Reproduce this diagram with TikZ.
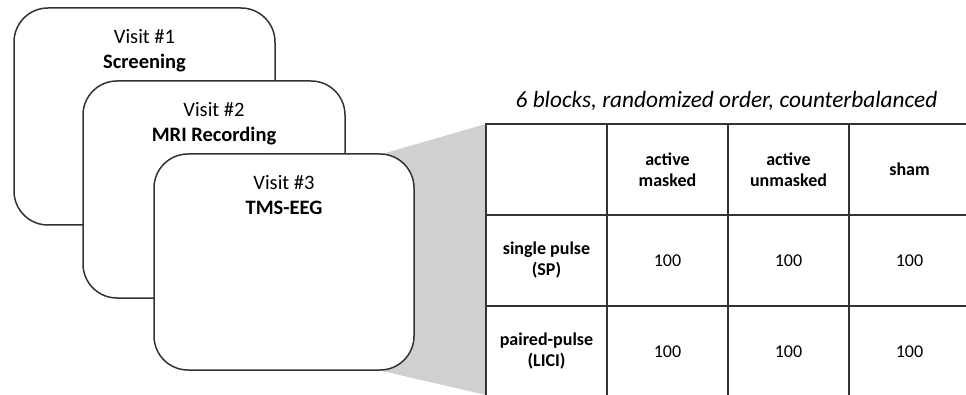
\documentclass[tikz,border=0pt]{standalone}
\usepackage{fontspec}
\setmainfont{Carlito}
\definecolor{lineC}{HTML}{333333}
\definecolor{grayF}{HTML}{D0D0D0}
\tikzset{
  visit/.style={draw=lineC, line width=1.5pt, fill=white, rounded corners=34pt, inner sep=0pt},
  vtext/.style={font=\fontsize{20.5}{24}\selectfont, inner sep=0pt, anchor=base},
  cell/.style={draw=lineC, line width=1.4pt, minimum width=121pt, minimum height=91pt, inner sep=0pt, align=center, font=\fontsize{18}{21}\selectfont},
  hcell/.style={cell, font=\fontsize{18}{21}\selectfont\bfseries},
}
\begin{document}
\begin{tikzpicture}[x=1pt,y=-1pt]
\useasboundingbox (0,0) rectangle (966,395);
\clip (0,0) rectangle (966,395);
% gray projection
\fill[grayF] (382,154) -- (486,124) -- (486,395) -- (382,371) -- cycle;
% visit boxes
\node[visit, minimum width=261pt, minimum height=217pt] (b1) at (144.5,116.5) {};
\node[vtext] (v1) at (144.5,44) {Visit \#1};
\node[vtext, font=\fontsize{20.5}{24}\selectfont\bfseries] (s1) at (144.5,69) {Screening};
\node[visit, minimum width=262pt, minimum height=217pt] (b2) at (214,189.5) {};
\node[vtext] (v2) at (214,117) {Visit \#2};
\node[vtext, font=\fontsize{20.5}{24}\selectfont\bfseries] (s2) at (214,142) {MRI Recording};
\node[visit, minimum width=260pt, minimum height=216pt] (b3) at (284,262) {};
\node[vtext] (v3) at (284,190) {Visit \#3};
\node[vtext, font=\fontsize{20.5}{24}\selectfont\bfseries] (s3) at (284,215) {TMS-EEG};
% title
\node[font=\fontsize{23.3}{26}\selectfont\itshape, inner sep=0pt] (title) at (726.5,101) {6 blocks, randomized order, counterbalanced};
% table
\node[cell] (c11) at (546.5,169.5) {};
\node[hcell] (c12) at (667.5,169.5) {active\\masked};
\node[hcell] (c13) at (788.5,169.5) {active\\unmasked};
\node[hcell] (c14) at (909.5,169.5) {sham};
\node[hcell] (c21) at (546.5,260.5) {single pulse\\(SP)};
\node[cell] (c22) at (667.5,260.5) {100};
\node[cell] (c23) at (788.5,260.5) {100};
\node[cell] (c24) at (909.5,260.5) {100};
\node[hcell] (c31) at (546.5,351.5) {paired-pulse\\(LICI)};
\node[cell] (c32) at (667.5,351.5) {100};
\node[cell] (c33) at (788.5,351.5) {100};
\node[cell] (c34) at (909.5,351.5) {100};
\end{tikzpicture}
\end{document}
